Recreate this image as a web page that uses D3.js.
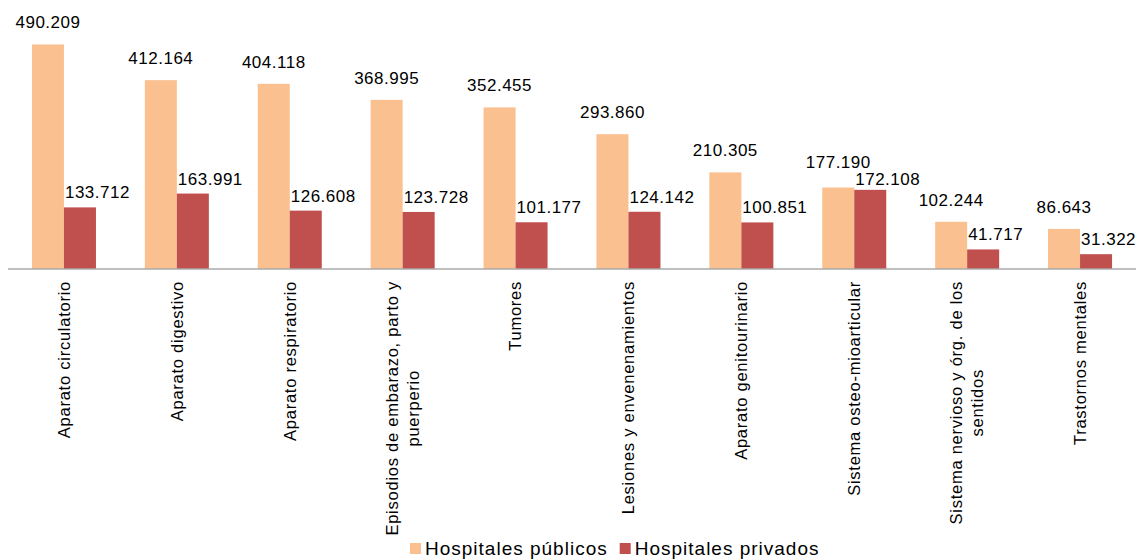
<!DOCTYPE html>
<html>
<head>
<meta charset="utf-8">
<script src="https://cdn.jsdelivr.net/npm/d3@7"></script>
<style>
  html, body { margin: 0; padding: 0; background: #fff; }
  svg { display: block; }
  text { font-family: "Liberation Sans", Arial, sans-serif; fill: #000; }
</style>
</head>
<body>
<svg id="chart" width="1136" height="559"></svg>
<script>
const categories = [
  "Aparato circulatorio",
  "Aparato digestivo",
  "Aparato respiratorio",
  "Episodios de embarazo, parto y puerperio",
  "Tumores",
  "Lesiones y envenenamientos",
  "Aparato genitourinario",
  "Sistema osteo-mioarticular",
  "Sistema nervioso y órg. de los sentidos",
  "Trastornos mentales"
];
const tickLabels = [
  ["Aparato circulatorio"],
  ["Aparato digestivo"],
  ["Aparato respiratorio"],
  ["Episodios de embarazo, parto y", "puerperio"],
  ["Tumores"],
  ["Lesiones y envenenamientos"],
  ["Aparato genitourinario"],
  ["Sistema osteo-mioarticular"],
  ["Sistema nervioso y órg. de los", "sentidos"],
  ["Trastornos mentales"]
];
const seriesNames = ["Hospitales públicos", "Hospitales privados"];
const publicos = [490209, 412164, 404118, 368995, 352455, 293860, 210305, 177190, 102244, 86643];
const privados = [133712, 163991, 126608, 123728, 101177, 124142, 100851, 172108, 41717, 31322];
const colors = ["#FAC090", "#C0504D"];

const locale = d3.formatLocale({decimal: ",", thousands: ".", grouping: [3], currency: ["", " €"]});
const fmt = locale.format(",d");

const svg = d3.select("#chart");
const baseY = 268.5;

const x = d3.scaleBand().domain(categories).range([7.5, 1136.5]).paddingInner(0.433).paddingOuter(0.2165);
const xs = d3.scaleBand().domain(seriesNames).range([0, x.bandwidth()]).padding(0);
const y = d3.scaleLinear().domain([0, 587500]).range([baseY, 0]);

const series = [publicos, privados];
const g = svg.append("g");

series.forEach((vals, si) => {
  g.selectAll(".bar" + si)
    .data(categories.map((c, i) => ({c, v: vals[i]})))
    .enter().append("rect")
    .attr("x", d => x(d.c) + xs(seriesNames[si]))
    .attr("y", d => y(d.v))
    .attr("width", xs.bandwidth())
    .attr("height", d => baseY - y(d.v))
    .attr("fill", colors[si]);
});

// data labels with simple collision avoidance
const minSep = 16.7;
categories.forEach((c, i) => {
  let yPub = y(publicos[i]) - 16;
  let yPriv = y(privados[i]) - 9;
  if (Math.abs(yPub - yPriv) < minSep) {
    const mid = (yPub + yPriv) / 2;
    if (yPub <= yPriv) { yPub = mid - minSep / 2; yPriv = mid + minSep / 2; }
    else { yPriv = mid - minSep / 2; yPub = mid + minSep / 2; }
  }
  g.append("text")
    .attr("x", x(c) + xs(seriesNames[0]) + xs.bandwidth() / 2)
    .attr("y", yPub)
    .attr("text-anchor", "middle")
    .style("font-size", "17px")
    .style("letter-spacing", "0.5px")
    .text(fmt(publicos[i]));
  g.append("text")
    .attr("x", x(c) + xs(seriesNames[1]) + 1)
    .attr("y", yPriv)
    .attr("text-anchor", "start")
    .style("font-size", "17px")
    .style("letter-spacing", "0.5px")
    .text(fmt(privados[i]));
});

// axis baseline
const xAxis = d3.axisBottom(x).tickSize(0).tickFormat("");
const ax = svg.append("g").attr("transform", `translate(0,${baseY})`).call(xAxis);
ax.select(".domain").attr("stroke", "#808080").attr("stroke-width", 1.2);

// rotated category labels
const lineH = 21;
categories.forEach((c, i) => {
  const lines = tickLabels[i];
  const cx = x(c) + x.bandwidth() / 2;
  const tg = svg.append("g").attr("transform", `translate(${cx},281) rotate(-90)`);
  const t = tg.append("text")
    .attr("text-anchor", "middle")
    .style("font-size", "16.5px")
    .style("letter-spacing", "0.75px");
  lines.forEach((ln, k) => {
    t.append("tspan")
      .attr("x", 0)
      .attr("y", (k - (lines.length - 1) / 2) * lineH)
      .attr("dy", "0.35em")
      .text(ln);
  });
  let maxLen = 0;
  t.selectAll("tspan").each(function() { maxLen = Math.max(maxLen, this.getComputedTextLength()); });
  t.selectAll("tspan").attr("x", -maxLen / 2);
});

// legend
const leg = svg.append("g");
let lx = 410;
seriesNames.forEach((s, i) => {
  leg.append("rect").attr("x", lx).attr("y", 543).attr("width", 11).attr("height", 11).attr("fill", colors[i]);
  const t = leg.append("text").attr("x", lx + 15).attr("y", 554.5)
    .style("font-size", "19px").style("letter-spacing", "1px").text(s);
  lx = lx + 15 + t.node().getComputedTextLength() + 12;
});
</script>
</body>
</html>
